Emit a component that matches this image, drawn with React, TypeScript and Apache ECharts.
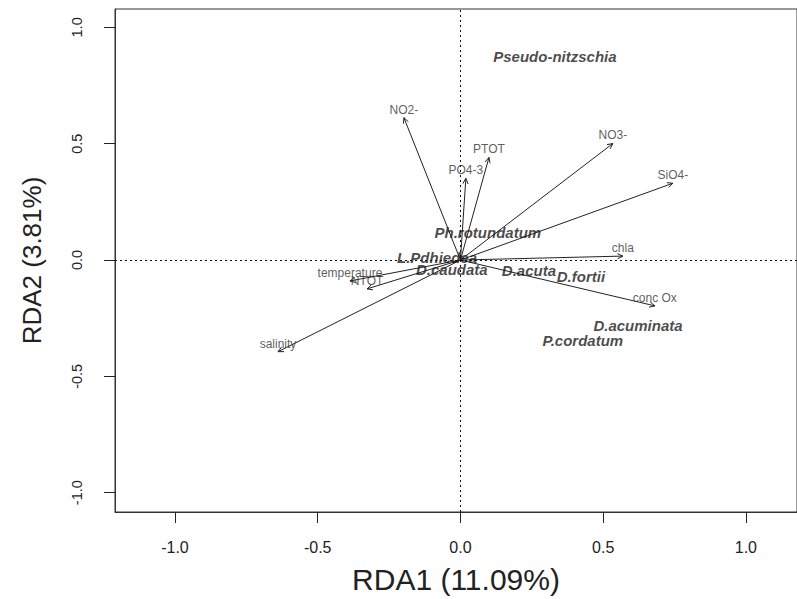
import React, { useEffect, useRef } from "react";
import * as echarts from "echarts";

// Environmental variables (biplot arrows)
const envLabels = ["NO2-", "PTOT", "PO4-3", "NO3-", "SiO4-", "chla", "conc Ox", "salinity", "temperature", "NTOT"];
const envRDA1 = [-0.198, 0.1, 0.019, 0.534, 0.744, 0.569, 0.681, -0.639, -0.387, -0.327];
const envRDA2 = [0.612, 0.441, 0.351, 0.501, 0.33, 0.017, -0.197, -0.394, -0.09, -0.124];

// Species scores
const speciesLabels = ["Pseudo-nitzschia", "Ph.rotundatum", "L.Pdhiedea", "D.caudata", "D.acuta", "D.fortii", "D.acuminata", "P.cordatum"];
const speciesRDA1 = [0.331, 0.096, -0.082, -0.03, 0.24, 0.422, 0.622, 0.429];
const speciesRDA2 = [0.874, 0.12, 0.009, -0.039, -0.047, -0.069, -0.283, -0.347];

// Tick values
const xTicks = [-1.0, -0.5, 0.0, 0.5, 1.0];
const yTicks = [-1.0, -0.5, 0.0, 0.5, 1.0];

const xTitle = "RDA1 (11.09%)";
const yTitle = "RDA2 (3.81%)";

export default function App() {
  const ref = useRef<HTMLDivElement>(null);
  useEffect(() => {
    if (!ref.current) return;
    const chart = echarts.init(ref.current, null, { renderer: "svg" });
    const font = "Liberation Sans, Arial, sans-serif";
    const envData = envLabels.map((n, i) => ({ name: n, value: [envRDA1[i], envRDA2[i]] }));
    const spData = speciesLabels.map((n, i) => ({ name: n, value: [speciesRDA1[i], speciesRDA2[i]] }));
    const option: any = {
      animation: false,
      backgroundColor: "#ffffff",
      grid: {
        left: 115,
        top: 9,
        right: 0,
        bottom: 85,
        show: true,
        borderColor: "#333",
        borderWidth: 1,
        backgroundColor: "transparent",
      },
      xAxis: {
        type: "value",
        min: -1.21,
        max: 1.179,
        axisLine: { show: true, onZero: false, lineStyle: { color: "#333", width: 1 } },
        splitLine: { show: false },
        axisTick: { show: true, length: 11, customValues: xTicks, lineStyle: { color: "#222" } },
        axisLabel: {
          customValues: xTicks,
          formatter: (v: number) => v.toFixed(1),
          fontSize: 16,
          fontFamily: font,
          color: "#222",
          margin: 27,
        },
        name: xTitle,
        nameLocation: "middle",
        nameGap: 52,
        nameTextStyle: { fontSize: 30, fontFamily: font, color: "#222" },
      },
      yAxis: {
        type: "value",
        min: -1.083,
        max: 1.079,
        axisLine: { show: true, onZero: false, lineStyle: { color: "#333", width: 1 } },
        splitLine: { show: false },
        axisTick: { show: true, length: 11, customValues: yTicks, lineStyle: { color: "#222" } },
        axisLabel: {
          customValues: yTicks,
          formatter: (v: number) => v.toFixed(1),
          fontSize: 14.5,
          fontFamily: font,
          color: "#222",
          rotate: 90,
          margin: 31,
        },
        name: yTitle,
        nameLocation: "middle",
        nameRotate: 90,
        nameGap: 70,
        nameTextStyle: { fontSize: 26, fontFamily: font, color: "#222" },
      },
      series: [
        {
          type: "custom",
          data: envData,
          silent: true,
          renderItem: (params: any, api: any) => {
            const o = api.coord([0, 0]);
            const t = api.coord([api.value(0), api.value(1)]);
            const a = Math.atan2(t[1] - o[1], t[0] - o[0]);
            const h = 6;
            const w = 0.45;
            const p1 = [t[0] - h * Math.cos(a - w), t[1] - h * Math.sin(a - w)];
            const p2 = [t[0] - h * Math.cos(a + w), t[1] - h * Math.sin(a + w)];
            return {
              type: "group",
              children: [
                {
                  type: "line",
                  shape: { x1: o[0], y1: o[1], x2: t[0], y2: t[1] },
                  style: { stroke: "#222", lineWidth: 1 },
                },
                {
                  type: "polyline",
                  shape: { points: [p1, t, p2] },
                  style: { stroke: "#222", fill: null, lineWidth: 1 },
                },
              ],
            };
          },
          markLine: {
            silent: true,
            symbol: ["none", "none"],
            label: { show: false },
            lineStyle: { type: [2, 3], color: "#111", width: 1 },
            data: [{ xAxis: 0 }, { yAxis: 0 }],
          },
          z: 2,
        },
        {
          type: "scatter",
          data: envData,
          symbolSize: 1,
          itemStyle: { color: "rgba(0,0,0,0)" },
          silent: true,
          label: {
            show: true,
            position: "inside",
            offset: [0, -8],
            formatter: (p: any) => p.name,
            fontSize: 12,
            fontFamily: font,
            color: "#333",
            align: "center",
            verticalAlign: "middle",
          },
          z: 3,
        },
        {
          type: "scatter",
          data: spData,
          symbolSize: 1,
          itemStyle: { color: "rgba(0,0,0,0)" },
          silent: true,
          label: {
            show: true,
            position: "inside",
            formatter: (p: any) => p.name,
            fontSize: 15,
            fontFamily: font,
            fontWeight: "bold",
            fontStyle: "italic",
            color: "#1a1a1a",
            align: "center",
            verticalAlign: "middle",
          },
          z: 4,
        },
      ],
    };
    chart.setOption(option);
    return () => chart.dispose();
  }, []);
  return (
    <div
      ref={ref}
      style={{ position: "fixed", left: 0, top: 0, width: 797, height: 599, background: "#fff" }}
    />
  );
}
